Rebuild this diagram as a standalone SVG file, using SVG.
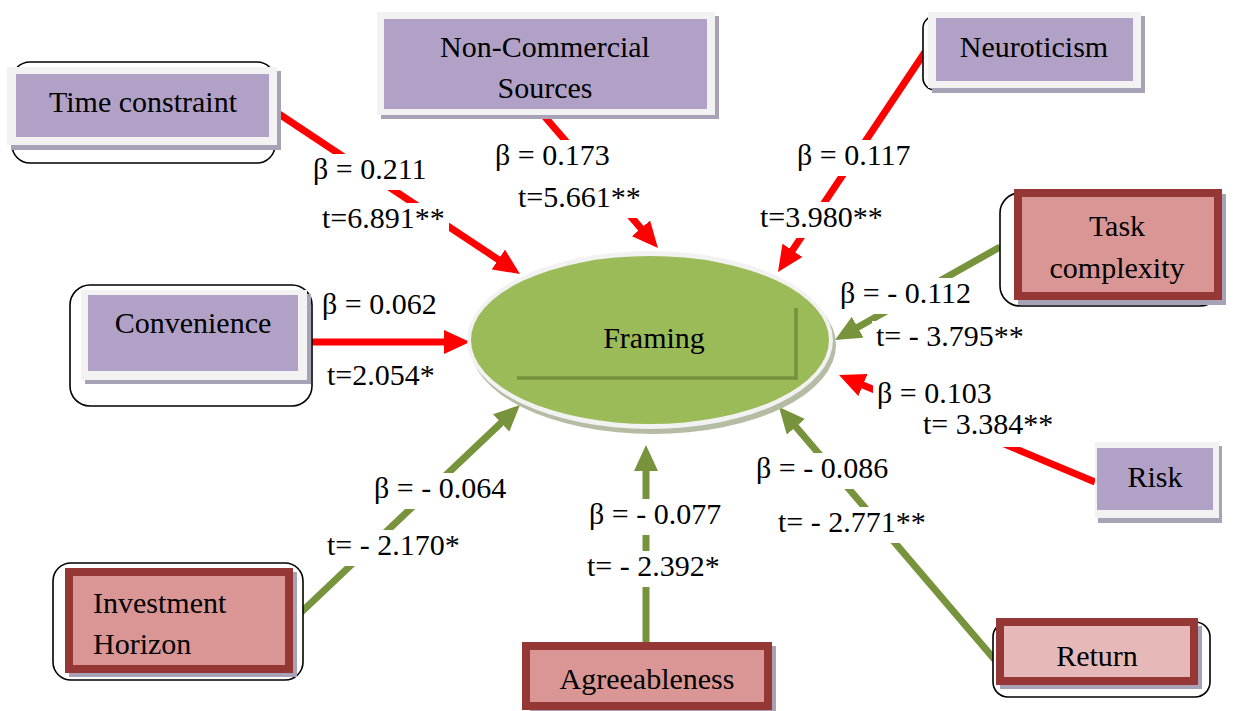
<svg xmlns="http://www.w3.org/2000/svg" width="1255" height="711" viewBox="0 0 1255 711">
  <style>
    .txt { font-family: 'Liberation Serif', 'Times New Roman', serif; font-size: 30px; fill: #000; }
    .mid { text-anchor: middle; }
    .outline { fill: #fff; stroke: #000; stroke-width: 1.6; }
    .frame { fill: #f2f2f2; }
    .shadow { fill: #a7a2b6; }
    .purple { fill: #b2a1c7; }
    .dred { fill: #d99694; stroke: #953735; stroke-width: 8; }
    .lred { fill: #e6b9b8; stroke: #953735; stroke-width: 8; }
    .pos { stroke: #ff0000; stroke-width: 7; fill: none; marker-end: url(#headRed); }
    .neg { stroke: #77933c; stroke-width: 7; fill: none; marker-end: url(#headGreen); }
    .lblbg { fill: #fff; }
  </style>
  <defs>
    <marker id="headRed" markerUnits="userSpaceOnUse" markerWidth="26" markerHeight="24" viewBox="0 0 26 24" refX="8" refY="12" orient="auto">
      <path d="M0,0 L26,12 L0,24 z" fill="#ff0000"/>
    </marker>
    <marker id="headGreen" markerUnits="userSpaceOnUse" markerWidth="26" markerHeight="24" viewBox="0 0 26 24" refX="8" refY="12" orient="auto">
      <path d="M0,0 L26,12 L0,24 z" fill="#77933c"/>
    </marker>
  </defs>

  <rect width="1255" height="711" fill="#fff"/>

  <!-- paths into Framing: red = positive, green = negative -->
  <g id="connectors">
    <line class="pos" x1="273" y1="110" x2="505" y2="264"/>
    <line class="pos" x1="545" y1="117" x2="646.2" y2="234.4"/>
    <line class="pos" x1="925" y1="52" x2="788" y2="257"/>
    <line class="pos" x1="312" y1="342" x2="452" y2="342"/>
    <line class="neg" x1="1000" y1="247" x2="850.7" y2="331.2"/>
    <line class="pos" x1="1095" y1="482" x2="855.6" y2="381.9"/>
    <line class="neg" x1="995" y1="660" x2="790.7" y2="420.7"/>
    <line class="neg" x1="646" y1="642" x2="646" y2="463"/>
    <line class="neg" x1="293" y1="620" x2="506.9" y2="417.4"/>
  </g>

  <!-- path coefficients on white backing -->
  <g id="labels" font-family="Liberation Serif, serif" font-size="30">
    <rect class="lblbg" x="309" y="154" width="123" height="36"/>
    <text class="txt" x="313" y="179">β = 0.211</text>
    <rect class="lblbg" x="318" y="203" width="131" height="36"/>
    <text class="txt" x="322" y="228">t=6.891**</text>

    <rect class="lblbg" x="491" y="140" width="125" height="40"/>
    <text class="txt" x="495" y="165">β = 0.173</text>
    <rect class="lblbg" x="514" y="180" width="133" height="38"/>
    <text class="txt" x="518" y="207">t=5.661**</text>

    <rect class="lblbg" x="793" y="140" width="125" height="36"/>
    <text class="txt" x="797" y="165">β = 0.117</text>
    <rect class="lblbg" x="756" y="202" width="133" height="36"/>
    <text class="txt" x="760" y="227">t=3.980**</text>

    <rect class="lblbg" x="318" y="289" width="125" height="36"/>
    <text class="txt" x="322" y="314">β = 0.062</text>
    <rect class="lblbg" x="323" y="360" width="121" height="36"/>
    <text class="txt" x="327" y="385">t=2.054*</text>

    <rect class="lblbg" x="836" y="278" width="141" height="36"/>
    <text class="txt" x="840" y="303">β = - 0.112</text>
    <rect class="lblbg" x="872" y="321" width="162" height="36"/>
    <text class="txt" x="876" y="346">t= - 3.795**</text>

    <rect class="lblbg" x="873" y="378" width="125" height="36"/>
    <text class="txt" x="877" y="403">β = 0.103</text>
    <rect class="lblbg" x="919" y="409" width="141" height="38"/>
    <text class="txt" x="923" y="434">t= 3.384**</text>

    <rect class="lblbg" x="752" y="453" width="144" height="36"/>
    <text class="txt" x="756" y="478">β = - 0.086</text>
    <rect class="lblbg" x="774" y="507" width="162" height="36"/>
    <text class="txt" x="778" y="532">t= - 2.771**</text>

    <rect class="lblbg" x="585" y="499" width="150" height="36"/>
    <text class="txt" x="589" y="524">β = - 0.077</text>
    <rect class="lblbg" x="583" y="551" width="152" height="36"/>
    <text class="txt" x="587" y="576">t= - 2.392*</text>

    <rect class="lblbg" x="370" y="473" width="147" height="36"/>
    <text class="txt" x="374" y="498">β = - 0.064</text>
    <rect class="lblbg" x="323" y="530" width="144" height="36"/>
    <text class="txt" x="327" y="555">t= - 2.170*</text>
  </g>

  <!-- central construct -->
  <g id="framing">
    <ellipse cx="653" cy="345" rx="183" ry="89" fill="#b4bca3"/>
    <ellipse cx="650" cy="340" rx="183" ry="89" fill="#f2f2f2"/>
    <ellipse cx="650" cy="340" rx="179" ry="84" fill="#9bbb59"/>
    <polyline points="517,378 796,378 796,308" fill="none" stroke="#76923c" stroke-width="3.5"/>
    <text class="txt mid" x="654" y="348">Framing</text>
  </g>

  <g id="time-constraint">
    <rect class="outline" x="12" y="62" width="263" height="101" rx="18"/>
    <rect class="shadow" x="11" y="71" width="270" height="79"/>
    <rect class="frame" x="7" y="67" width="270" height="78"/>
    <rect class="purple" x="16" y="74" width="253" height="63"/>
    <text class="txt mid" x="143" y="112">Time constraint</text>
  </g>

  <g id="non-commercial-sources">
    <rect class="shadow" x="381" y="16" width="338" height="103"/>
    <rect class="frame" x="377" y="12" width="338" height="103"/>
    <rect class="purple" x="384" y="19" width="323" height="90"/>
    <text class="txt mid" x="545" y="57">Non-Commercial</text>
    <text class="txt mid" x="545" y="98">Sources</text>
  </g>

  <g id="neuroticism">
    <rect class="outline" x="923" y="16" width="220" height="74" rx="12"/>
    <rect class="shadow" x="932" y="16" width="213" height="77"/>
    <rect class="frame" x="928" y="12" width="213" height="76"/>
    <rect class="purple" x="936" y="18" width="197" height="63"/>
    <text class="txt mid" x="1034" y="57">Neuroticism</text>
  </g>

  <g id="task-complexity">
    <rect class="outline" x="1000" y="193" width="220" height="113" rx="20"/>
    <rect class="shadow" x="1018" y="194" width="208" height="111"/>
    <rect class="dred" x="1018" y="193" width="200" height="103"/>
    <text class="txt mid" x="1117" y="236">Task</text>
    <text class="txt mid" x="1117" y="278">complexity</text>
  </g>

  <g id="convenience">
    <rect class="outline" x="70" y="285" width="242" height="121" rx="20"/>
    <rect class="shadow" x="85" y="294" width="226" height="90"/>
    <rect class="frame" x="81" y="290" width="226" height="90"/>
    <rect class="purple" x="88" y="295" width="210" height="76"/>
    <text class="txt mid" x="193" y="333">Convenience</text>
  </g>

  <g id="risk">
    <rect class="shadow" x="1098" y="446" width="124" height="77"/>
    <rect class="frame" x="1095" y="442" width="124" height="76"/>
    <rect class="purple" x="1097" y="448" width="116" height="62"/>
    <text class="txt mid" x="1155" y="487">Risk</text>
  </g>

  <g id="investment-horizon">
    <rect class="outline" x="53" y="563" width="250" height="117" rx="18"/>
    <rect class="shadow" x="69" y="572" width="228" height="105"/>
    <rect class="dred" x="69" y="572" width="220" height="97"/>
    <text class="txt" x="93" y="613">Investment</text>
    <text class="txt" x="93" y="654">Horizon</text>
  </g>

  <g id="agreeableness">
    <rect class="shadow" x="530" y="646" width="246" height="68"/>
    <rect class="dred" x="526" y="646" width="242" height="60"/>
    <text class="txt mid" x="647" y="689">Agreeableness</text>
  </g>

  <g id="return">
    <rect class="outline" x="993" y="622" width="217" height="75" rx="15"/>
    <rect class="shadow" x="1000" y="626" width="202" height="63"/>
    <rect class="lred" x="1000" y="622" width="194" height="59"/>
    <text class="txt mid" x="1097" y="666">Return</text>
  </g>
</svg>
